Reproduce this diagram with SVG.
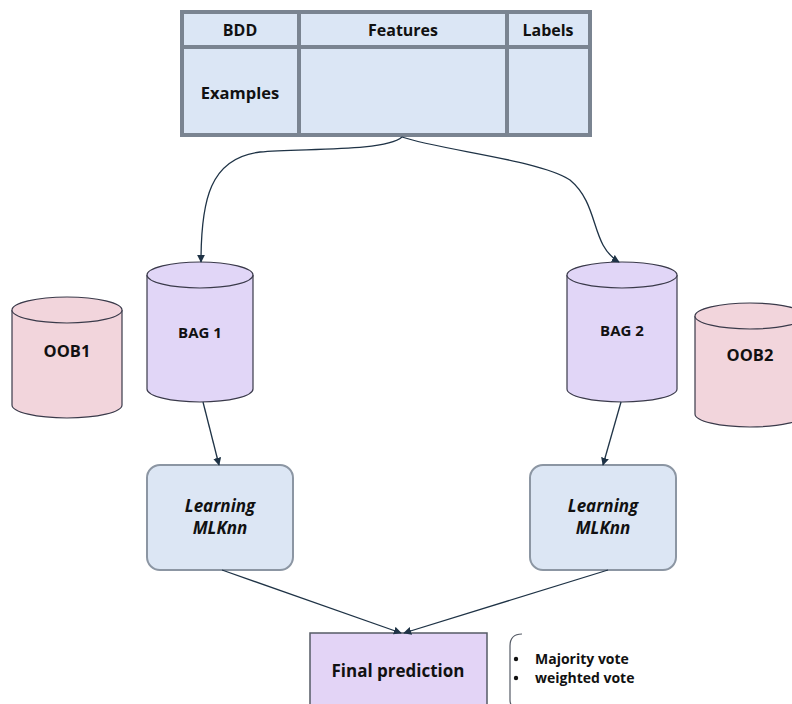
<svg xmlns="http://www.w3.org/2000/svg" width="792" height="704" viewBox="0 0 792 704">
<defs>
<style>
text{font-family:"Open Sans","Noto Sans","Liberation Sans",sans-serif;font-weight:bold;fill:#111;text-anchor:middle;}
.grid{stroke:#7a8491;stroke-width:4;fill:none;}
.bag{fill:#e1d6f7;stroke:#3a3a4a;stroke-width:1.2;}
.oob{fill:#f2d5dc;stroke:#3a3a4a;stroke-width:1.2;}
.box{fill:#dce6f4;stroke:#8c96a3;stroke-width:2;}
.conn{fill:none;stroke:#1f3346;stroke-width:1.3;marker-end:url(#arr);}
</style>
<marker id="arr" viewBox="0 0 10 10" refX="9" refY="5" markerWidth="8" markerHeight="8" orient="auto" markerUnits="userSpaceOnUse">
<path d="M0,0 L10,5 L0,10 z" fill="#1f3346"/>
</marker>
</defs>
<rect width="792" height="704" fill="#ffffff"/>

<g id="table">
<rect x="182" y="12" width="408" height="123" fill="#dbe6f5"/>
<rect x="182" y="12" width="408" height="123" class="grid"/>
<line x1="182" y1="47" x2="590" y2="47" class="grid"/>
<line x1="299" y1="12" x2="299" y2="135" class="grid"/>
<line x1="507" y1="12" x2="507" y2="135" class="grid"/>
<text x="240" y="36" font-size="16">BDD</text>
<text x="403" y="36" font-size="16">Features</text>
<text x="548" y="36" font-size="16">Labels</text>
<text x="240" y="99" font-size="16.5">Examples</text>
</g>

<g id="oob1">
<path d="M12,310 L12,405 A55,13 0 0 0 122,405 L122,310" class="oob"/>
<ellipse cx="67" cy="310" rx="55" ry="13" class="oob"/>
<text x="67" y="357" font-size="16.5">OOB1</text>
</g>

<g id="bag1">
<path d="M147,275 L147,389 A53,13 0 0 0 253,389 L253,275" class="bag"/>
<ellipse cx="200" cy="275" rx="53" ry="13" class="bag"/>
<text x="200" y="338" font-size="15">BAG 1</text>
</g>

<g id="bag2">
<path d="M567,275 L567,389 A55,13 0 0 0 677,389 L677,275" class="bag"/>
<ellipse cx="622" cy="275" rx="55" ry="13" class="bag"/>
<text x="622" y="336" font-size="15">BAG 2</text>
</g>

<g id="oob2">
<path d="M695,316 L695,414 A55,13 0 0 0 805,414 L805,316" class="oob"/>
<ellipse cx="750" cy="316" rx="55" ry="13" class="oob"/>
<text x="750" y="361" font-size="16.5">OOB2</text>
</g>

<g id="learn1">
<rect x="147" y="465" width="146" height="105" rx="13" class="box"/>
<text x="220" y="512" font-size="17" font-style="italic">Learning</text>
<text x="220" y="534" font-size="17" font-style="italic">MLKnn</text>
</g>

<g id="learn2">
<rect x="530" y="465" width="146" height="105" rx="13" class="box"/>
<text x="603" y="512" font-size="17" font-style="italic">Learning</text>
<text x="603" y="534" font-size="17" font-style="italic">MLKnn</text>
</g>

<g id="final">
<rect x="310" y="633" width="177" height="75" fill="#e3d4f6" stroke="#555b66" stroke-width="1.5"/>
<text x="398" y="677" font-size="17">Final prediction</text>
</g>

<g id="note">
<path d="M522,634 Q510,634 510,646 L510,700 Q510,708 518,708" fill="none" stroke="#555b66" stroke-width="1.2"/>
<circle cx="516" cy="659" r="2.2" fill="#111"/>
<circle cx="516" cy="678" r="2.2" fill="#111"/>
<text x="535" y="664" font-size="14" style="text-anchor:start">Majority vote</text>
<text x="535" y="683" font-size="14" style="text-anchor:start">weighted vote</text>
</g>

<g id="connectors">
<path class="conn" d="M402,137 C385,152 300,148 260,152 C210,158 201,200 201,262"/>
<path class="conn" d="M402,137 C440,150 540,160 570,180 C600,205 590,245 619,262"/>
<path class="conn" d="M203,402 L219,465"/>
<path class="conn" d="M621,402 L603,465"/>
<path class="conn" d="M222,570 L401,633"/>
<path class="conn" d="M608,570 L404,633"/>
</g>
</svg>
